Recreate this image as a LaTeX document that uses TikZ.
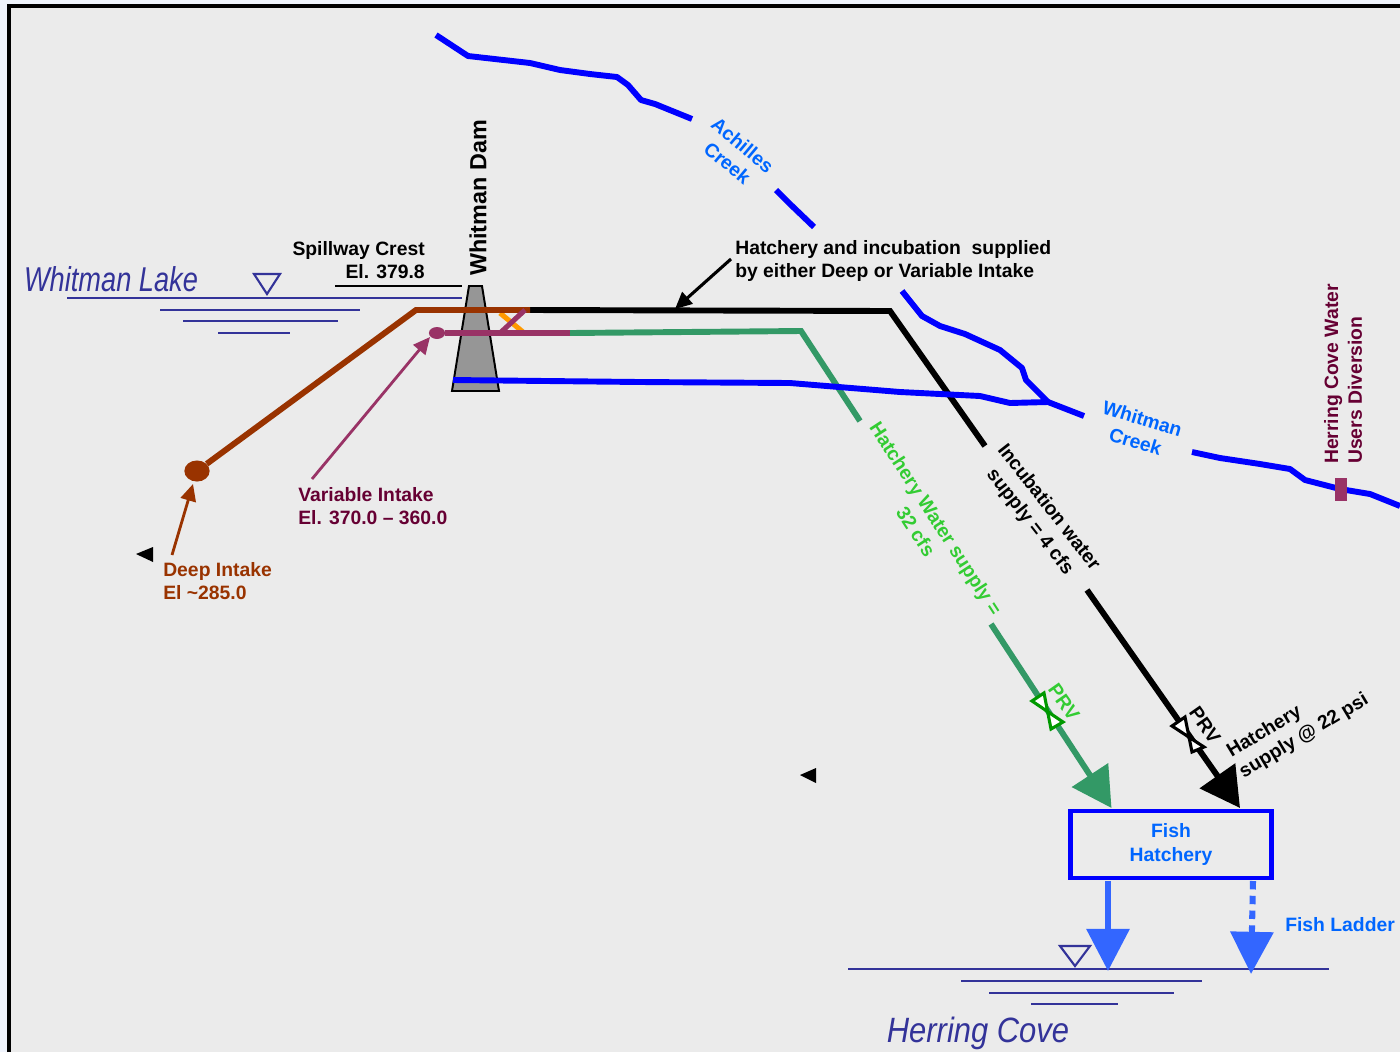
\documentclass[tikz,border=0pt]{standalone}
\usepackage{fontspec}
\setmainfont{Liberation Sans}
\usetikzlibrary{arrows.meta, shapes.geometric}
\definecolor{paper}{HTML}{EBEBEB}
\definecolor{edge}{HTML}{F0F4FC}
\definecolor{lakeblue}{HTML}{333399}
\definecolor{creekblue}{HTML}{0000FF}
\definecolor{textblue}{HTML}{0066FF}
\definecolor{outblue}{HTML}{3366FF}
\definecolor{deepbrown}{HTML}{993300}
\definecolor{crossorange}{HTML}{FF9900}
\definecolor{varpurple}{HTML}{993366}
\definecolor{vartext}{HTML}{660033}
\definecolor{hatchgreen}{HTML}{339966}
\definecolor{labelgreen}{HTML}{33CC33}
\definecolor{valvegreen}{HTML}{009900}
\definecolor{damgray}{HTML}{969696}
\tikzset{
    tag/.style={font=\bfseries\fontsize{13.75}{16.9}\selectfont, inner sep=0pt, align=center},
    water/.style={text=lakeblue, inner sep=0pt},
    waterline/.style={draw=lakeblue, line width=1.6pt},
    creek/.style={draw=creekblue, line width=4.2pt, line join=round},
    pipe/.style={line width=4.2pt},
    bigtip/.style={-{Triangle[length=28pt,width=30pt]}},
    smalltip/.style={-{Triangle[length=12pt,width=11pt]}},
    valve/.style={fill=white, line width=2.2pt, line join=miter}
}
\begin{document}
\begin{tikzpicture}[x=.711pt, y=-.711pt]
    \useasboundingbox (0, 0) rectangle (1400, 1052);
    \fill[edge] (0, 0) rectangle (1400, 1052);
    \fill[paper] (9, 6) rectangle (1400, 1052);
    \draw[line width=2.9pt] (9, 1052) -- (9, 6) -- (1400, 6); % frame

    % Creeks
    \draw[creek] (436, 35) -- (468, 56) -- (530, 63) -- (560, 70) -- (590, 74) -- (617, 77) -- (628, 85) -- (641, 100) -- (655, 104) -- (692, 119);
    \draw[creek] (776, 190) -- (790, 204) -- (814, 227);
    \draw[creek] (902, 291) -- (922, 316) -- (940, 326) -- (965, 334) -- (1000, 350) -- (1022, 368) -- (1026, 380) -- (1035, 389) -- (1048, 402);
    \draw[creek] (1192, 452) -- (1220, 458) -- (1260, 464) -- (1290, 469) -- (1305, 480) -- (1340, 489) -- (1370, 494) -- (1400, 506);

    % Dam
    \draw[fill=damgray, line width=1.4pt] (469, 286) -- (482, 286) -- (499, 391) -- (452, 391) -- cycle;

    % Water levels
    \draw[waterline] (67, 298) -- (462, 298);
    \draw[waterline] (160, 310) -- (360, 310);
    \draw[waterline] (183, 321) -- (338, 321);
    \draw[waterline] (218, 333) -- (290, 333);
    \draw[draw=lakeblue, line width=1.5pt] (254, 274) -- (280, 274) -- (267, 294) -- cycle;
    \draw[line width=1pt] (335, 286) -- (462, 286);
    \draw[waterline] (848, 969) -- (1329, 969);
    \draw[waterline] (961, 981) -- (1202, 981);
    \draw[waterline] (989, 993) -- (1174, 993);
    \draw[waterline] (1031, 1004) -- (1118, 1004);
    \draw[draw=lakeblue, line width=1.5pt] (1060, 946) -- (1090, 946) -- (1075, 966) -- cycle;

    % Intakes
    \node[ellipse, fill=deepbrown, minimum width=18pt, minimum height=15pt, inner sep=0pt] (deepintake) at (197, 471) {};
    \node[ellipse, fill=varpurple, minimum width=11.5pt, minimum height=8.5pt, inner sep=0pt] (varintake) at (437, 333) {};

    % Pipe junctions
    \coordinate (deepbend) at (416, 310);
    \coordinate (deepend) at (530, 310);
    \coordinate (varend) at (570, 333);
    \coordinate (crossa) at (500, 313);
    \coordinate (crossb) at (523, 332);
    \coordinate (crossc) at (500, 333);
    \coordinate (crossd) at (525, 310);
    \coordinate (blackbend) at (890, 311);
    \coordinate (blackgapa) at (985, 446);
    \coordinate (blackgapb) at (1087, 590);
    \coordinate (blacktip) at (1240, 808);
    \coordinate (greenbend) at (801, 331);
    \coordinate (greengapa) at (860, 421);
    \coordinate (greengapb) at (991, 624);
    \coordinate (greentip) at (1111.5, 808);

    % Supply lines
    \draw[pipe, draw=black, line join=miter] (deepend) -- (blackbend) -- (blackgapa);
    \draw[pipe, draw=black, bigtip] (blackgapb) -- (blacktip);
    \draw[pipe, draw=hatchgreen] (varend) -- (greenbend) -- (greengapa);
    \draw[pipe, draw=hatchgreen, bigtip] (greengapb) -- (greentip);
    \draw[line width=3.6pt, draw=crossorange] (crossa) -- (crossb);
    \draw[pipe, draw=deepbrown] (deepintake) -- (deepbend) -- (deepend);
    \draw[line width=3.6pt, draw=varpurple] (crossc) -- (crossd);
    \draw[pipe, draw=varpurple] (varintake) -- (varend);

    % Whitman Creek passes over the pipes
    \draw[creek] (453, 380) -- (640, 382) -- (790, 383) -- (900, 392) -- (980, 396) -- (1010, 403) -- (1048, 402) -- (1084, 416);

    % PRVs
    \draw[valve, draw=valvegreen] (1032, 701) -- (1044, 693) -- (1051, 729) -- (1063, 722) -- cycle;
    \draw[valve, draw=black] (1172, 726) -- (1185, 717) -- (1192, 752) -- (1204, 747) -- cycle;

    % Hatchery
    \node[draw=creekblue, line width=3.4pt, minimum width=143pt, minimum height=47.6pt, tag, text=textblue] (hatchery) at (1171, 844.5) {\raisebox{-1.5pt}{Fish}\\\raisebox{-1.5pt}{Hatchery}};
    \coordinate (outa) at (1108, 881);
    \coordinate (outatip) at (1108, 971);
    \coordinate (outb) at (1253, 881);
    \coordinate (outbtip) at (1251, 974);
    \draw[line width=4.3pt, draw=outblue, -{Triangle[length=30pt,width=30pt]}] (outa) -- (outatip);
    \draw[line width=4.3pt, draw=outblue, dash pattern=on 6pt off 4.5pt, -{Triangle[length=30pt,width=30pt]}] (outb) -- (outbtip);

    % Labels
    \node[tag, rotate=90, font=\bfseries\fontsize{16.6}{19}\selectfont] (damname) at (478, 198) {Whitman Dam};
    \node[water, font=\itshape\fontsize{24.5}{28}\selectfont, xscale=.79] (lakename) at (111, 279) {Whitman Lake};
    \node[water, font=\itshape\fontsize{25}{28}\selectfont, xscale=.88] (covename) at (978, 1033) {Herring Cove};
    \node[tag, align=right, anchor=east] (spillway) at (425, 260) {Spillway Crest\\El. 379.8};
    \node[tag, align=left, anchor=west] (supplynote) at (735, 261) {Hatchery and incubation\ \ supplied\\by either Deep or Variable Intake};
    \node[tag, align=left, anchor=west, text=vartext] (varname) at (298, 506) {Variable Intake\\El. 370.0 -- 360.0};
    \node[tag, align=left, anchor=west, text=deepbrown] (deepname) at (163, 581) {Deep Intake\\El \textasciitilde285.0};
    \node[tag, text=textblue, rotate=-40] (achilles) at (735, 154) {Achilles\\Creek};
    \node[tag, text=textblue, rotate=-17] (whitman) at (1139, 430) {Whitman\\Creek};
    \node[tag, rotate=-52] (incubation) at (1039, 515) {Incubation water\\supply = 4 cfs};
    \node[tag, text=labelgreen, rotate=-57] (hatchwater) at (926, 525) {Hatchery Water supply =\\32 cfs};
    \node[tag, text=labelgreen, rotate=-55] (prvgreen) at (1064, 702) {PRV};
    \node[tag, rotate=-55] (prvblack) at (1205, 725) {PRV};
    \node[tag, align=left, rotate=31] (psi) at (1298, 726) {Hatchery\\supply @ 22 psi};
    \node[tag, text=textblue, anchor=west] (ladder) at (1285, 925) {Fish Ladder};
    \node[tag, align=left, text=vartext, rotate=90] (diversion) at (1343, 374) {Herring Cove Water\\Users Diversion};

    % Pointers
    \coordinate (notefoot) at (731, 259);
    \coordinate (notetip) at (675, 309);
    \coordinate (varfoot) at (312, 479);
    \coordinate (vartip) at (430, 337);
    \coordinate (deepfoot) at (172, 555);
    \coordinate (deeptip) at (193, 484);
    \draw[line width=2.2pt, smalltip] (notefoot) -- (notetip);
    \draw[line width=2pt, draw=varpurple, smalltip] (varfoot) -- (vartip);
    \draw[line width=2pt, draw=deepbrown, smalltip] (deepfoot) -- (deeptip);

    % Diversion marker and stray pointers
    \fill[varpurple] (1335, 478) rectangle (1347, 501);
    \fill (136, 554) -- (153, 547) -- (153, 562) -- cycle;
    \fill (800, 775) -- (816, 768) -- (816, 783) -- cycle;
\end{tikzpicture}
\end{document}
